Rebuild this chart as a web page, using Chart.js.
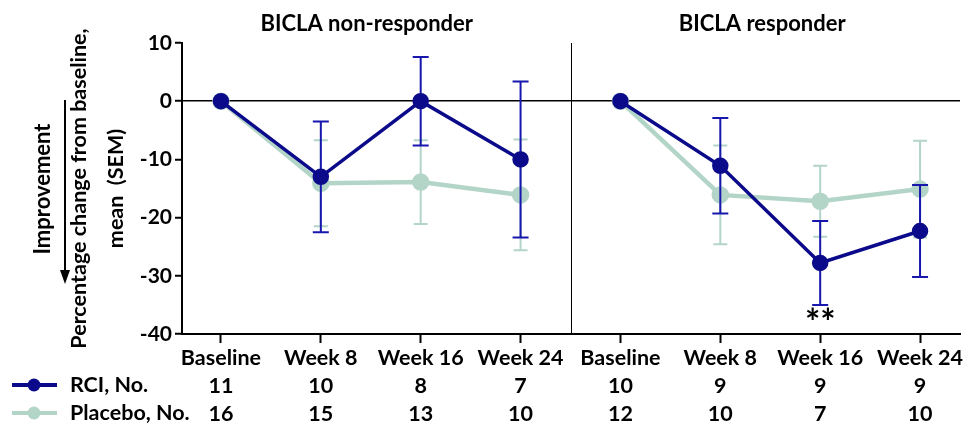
<!DOCTYPE html>
<html>
<head>
<meta charset="utf-8">
<script src="https://cdn.jsdelivr.net/npm/chart.js@4.4.1/dist/chart.umd.min.js"></script>
<style>
  html, body { margin: 0; padding: 0; background: #fff; }
  #wrap { width: 965px; height: 423px; position: relative; }
</style>
</head>
<body>
<div id="wrap"><canvas id="bicla"></canvas></div>
<script>
const weeks = ['Baseline', 'Week 8', 'Week 16', 'Week 24'];
const categories = [...weeks, ...weeks];
const panelTitles = ['BICLA non-responder', 'BICLA responder'];

// mean % change from baseline and SEM, per timepoint (non-responder then responder)
const rciMean = [0, -13.0, 0, -10.0, 0, -11.1, -27.8, -22.3];
const rciSem = [0, 9.5, 7.6, 13.4, 0, 8.2, 7.2, 7.9];
const placeboMean = [0, -14.1, -13.9, -16.1, 0, -16.1, -17.2, -15.1];
const placeboSem = [0, 7.4, 7.2, 9.5, 0, 8.5, 6.1, 8.3];

// patients per timepoint
const rciN = [11, 10, 8, 7, 10, 9, 9, 9];
const placeboN = [16, 15, 13, 10, 12, 10, 7, 10];

const yTicks = [10, 0, -10, -20, -30, -40];

const RCI = '#0a0a8a';
const RCI_BAR = '#1717ad';
const PLACEBO = '#b3d5c8';
const FONT = 'Lato';

function panelPoints(mean, panel) {
    return mean.map((v, i) => ({ x: i, y: v })).filter(p => Math.floor(p.x / 4) === panel);
}
function panelSem(sem, panel) {
    return sem.filter((v, i) => Math.floor(i / 4) === panel);
}

function lineSet(label, mean, sem, panel, color, barColor, width) {
    return {
        label: label,
        data: panelPoints(mean, panel),
        sem: panelSem(sem, panel),
        borderColor: color,
        backgroundColor: color,
        pointBackgroundColor: color,
        pointBorderColor: color,
        borderWidth: width,
        pointRadius: 6.5,
        pointHoverRadius: 6.5,
        barColor: barColor,
        tension: 0
    };
}

// SEM whiskers, drawn just before their own series so the stacking matches
const errorBars = {
    id: 'errorBars',
    beforeDatasetDraw(chart, args) {
        const ds = chart.data.datasets[args.index];
        const y = chart.scales.y;
        const ctx = chart.ctx;
        const cap = ds.barColor === RCI_BAR ? 8 : 7;
        ctx.save();
        ctx.strokeStyle = ds.barColor;
        ctx.lineWidth = 2;
        args.meta.data.forEach((pt, i) => {
            const s = ds.sem[i];
            if (!s) return;
            const m = ds.data[i].y;
            const top = y.getPixelForValue(m + s);
            const bot = y.getPixelForValue(m - s);
            ctx.beginPath();
            ctx.moveTo(pt.x, top); ctx.lineTo(pt.x, bot);
            ctx.moveTo(pt.x - cap, top); ctx.lineTo(pt.x + cap, top);
            ctx.moveTo(pt.x - cap, bot); ctx.lineTo(pt.x + cap, bot);
            ctx.stroke();
        });
        ctx.restore();
    }
};

const decorations = {
    id: 'decorations',
    beforeDatasetsDraw(chart) {
        const { ctx, chartArea, scales } = chart;
        const xd = Math.round(scales.x.getPixelForValue(3.5)) + 0.5;
        ctx.save();
        ctx.strokeStyle = '#000';
        ctx.lineWidth = 1;
        ctx.beginPath();
        ctx.moveTo(xd, chartArea.top);
        ctx.lineTo(xd, chartArea.bottom);
        ctx.stroke();
        ctx.restore();
    },
    afterDraw(chart) {
        const { ctx, scales } = chart;
        const x = scales.x;
        ctx.save();
        ctx.fillStyle = '#000';
        ctx.textBaseline = 'middle';
        ctx.textAlign = 'center';
        ctx.font = `bold 22px ${FONT}`;
        ctx.fillText(panelTitles[0], x.getPixelForValue(1.46), 24);
        ctx.fillText(panelTitles[1], x.getPixelForValue(5.42), 24);

        // significance marker under RCI week 16 (responder)
        ctx.font = `bold 36px ${FONT}`;
        ctx.fillText('**', x.getPixelForValue(6), scales.y.getPixelForValue(-38.2));

        // "Improvement" with downward arrow
        ctx.save();
        ctx.translate(43, 189);
        ctx.rotate(-Math.PI / 2);
        ctx.font = `bold 22px ${FONT}`;
        ctx.fillText('Improvement', 0, 0);
        ctx.restore();
        ctx.strokeStyle = '#000';
        ctx.lineWidth = 2;
        ctx.beginPath();
        ctx.moveTo(65, 100);
        ctx.lineTo(65, 272);
        ctx.stroke();
        ctx.beginPath();
        ctx.moveTo(60, 270);
        ctx.lineTo(70, 270);
        ctx.lineTo(65, 284);
        ctx.closePath();
        ctx.fill();

        // row legend for the patient counts under the x axis
        const rows = [['RCI, No.', RCI, 385], ['Placebo, No.', PLACEBO, 413]];
        rows.forEach(([label, color, yy]) => {
            ctx.strokeStyle = color;
            ctx.fillStyle = color;
            ctx.lineWidth = 4;
            ctx.beginPath();
            ctx.moveTo(12, yy); ctx.lineTo(57, yy);
            ctx.stroke();
            ctx.beginPath();
            ctx.arc(34, yy, 6.5, 0, Math.PI * 2);
            ctx.fill();
            ctx.fillStyle = '#000';
            ctx.textAlign = 'left';
            ctx.font = `bold 21.5px ${FONT}`;
            ctx.fillText(label, 70, yy);
        });
        ctx.restore();
    }
};

new Chart(document.getElementById('bicla'), {
    type: 'line',
    data: {
        datasets: [
            lineSet('RCI', rciMean, rciSem, 0, RCI, RCI_BAR, 3.5),
            lineSet('RCI', rciMean, rciSem, 1, RCI, RCI_BAR, 3.5),
            lineSet('Placebo', placeboMean, placeboSem, 0, PLACEBO, PLACEBO, 4.5),
            lineSet('Placebo', placeboMean, placeboSem, 1, PLACEBO, PLACEBO, 4.5)
        ]
    },
    options: {
        responsive: true,
        maintainAspectRatio: false,
        animation: false,
        layout: { autoPadding: false, padding: { top: 43, right: 5, left: 0, bottom: 0 } },
        plugins: {
            legend: { display: false },
            tooltip: { enabled: false }
        },
        scales: {
            x: {
                type: 'linear',
                min: -0.39,
                max: 7.4,
                afterBuildTicks(scale) {
                    scale.ticks = categories.map((c, i) => ({ value: i }));
                },
                afterFit(scale) {
                    scale.height = 89;
                    scale.paddingLeft = 0;
                    scale.paddingRight = 0;
                },
                border: { color: '#000', width: 2 },
                grid: { drawOnChartArea: false, tickLength: 9, tickColor: '#000', tickWidth: 2 },
                ticks: {
                    autoSkip: false,
                    maxRotation: 0,
                    padding: 1,
                    color: '#000',
                    font: { family: FONT, weight: 'bold', size: 21.5, lineHeight: 1.3 },
                    callback: (v) => [categories[v], String(rciN[v]), String(placeboN[v])]
                }
            },
            y: {
                min: -40,
                max: 10,
                afterBuildTicks(scale) {
                    scale.ticks = yTicks.map(v => ({ value: v }));
                },
                afterFit(scale) { scale.width = 182; },
                border: { color: '#000', width: 2 },
                grid: {
                    color: (c) => c.tick && c.tick.value === 0 ? '#000' : 'rgba(0,0,0,0)',
                    lineWidth: 1.5,
                    tickColor: '#000',
                    tickLength: 7,
                    tickWidth: 2
                },
                ticks: {
                    padding: 3,
                    color: '#000',
                    font: { family: FONT, weight: 'bold', size: 21 }
                },
                title: {
                    display: true,
                    text: ['Percentage change from baseline,', 'mean  (SEM)'],
                    color: '#000',
                    font: { family: FONT, weight: 'bold', size: 21.5, lineHeight: 1.75 },
                    padding: { top: 60, bottom: 0 }
                }
            }
        }
    },
    plugins: [errorBars, decorations]
});
</script>
</body>
</html>
